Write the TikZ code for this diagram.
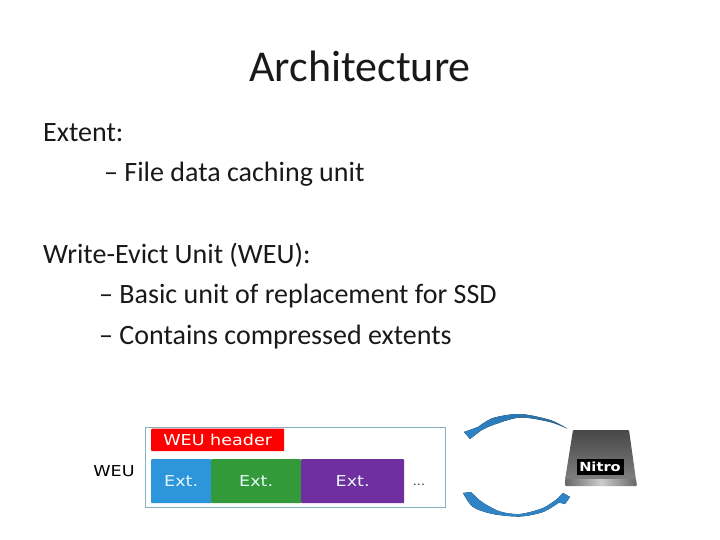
\documentclass[tikz,border=0pt]{standalone}
\usepackage{fontspec}
\setmainfont{Carlito}
\newfontfamily\vsans[FakeStretch=1.17]{DejaVu Sans}
\definecolor{extblue}{HTML}{2D96DB}
\definecolor{extgreen}{HTML}{339A3A}
\definecolor{extpurple}{HTML}{6F2F9F}
\definecolor{arrblue}{HTML}{2F84C6}
\definecolor{arrgray}{HTML}{6E7A84}
\tikzset{
  slidetext/.style={anchor=base west,inner sep=0pt,font=\fontsize{28}{30}\selectfont,text=black!90},
  extbox/.style={minimum height=44pt,inner sep=0pt,text=white!90!cyan,font=\vsans\fontsize{15}{17}\selectfont,anchor=north west,rounded corners=0.8pt},
}
\begin{document}
\begin{tikzpicture}[x=1pt,y=-1pt]
\useasboundingbox (0,0) rectangle (720,540);
\node[anchor=base,inner sep=0pt,font=\fontsize{44}{48}\selectfont,text=black!90] (title) at (360,82) {Architecture};
\node[slidetext] (l1) at (43,142) {Extent:};
\node[slidetext] (l2) at (104,182) {– File data caching unit};
\node[slidetext] (l3) at (43,263) {Write-Evict Unit (WEU):};
\node[slidetext] (l4) at (99,303) {– Basic unit of replacement for SSD};
\node[slidetext] (l5) at (99,344) {– Contains compressed extents};
% WEU frame
\node[draw=blue!30!cyan!35!gray!70,line width=0.9pt,fill=white,anchor=north west,minimum width=300pt,minimum height=80pt,inner sep=0pt] (frame) at (145,426.5) {};
\node[fill=red,anchor=north west,minimum width=133pt,minimum height=22.5pt,inner sep=0pt,rounded corners=1pt,text=white,font=\vsans\fontsize{15}{17}\selectfont] (hdr) at (151,428.5) {WEU header};
\node[extbox,fill=extblue,minimum width=60pt] (e1) at (151,459) {Ext.};
\node[extbox,fill=extgreen,minimum width=90pt] (e2) at (211,459) {Ext.};
\node[extbox,fill=extpurple,minimum width=103pt] (e3) at (301,459) {Ext.};
\node[inner sep=0pt,font=\vsans\fontsize{11}{12}\selectfont,text=black!80] (dots) at (419,485) {...};
\node[inner sep=0pt,font=\vsans\fontsize{15}{17}\selectfont,text=black] (weu) at (114,471) {WEU};
% Arrows
\fill[left color=arrblue,middle color=arrgray,right color=arrblue!80!black]
  plot[smooth] coordinates {(567,428.5) (550,420) (520,414) (493,418) (478,427)}
  -- (464,432) -- (470,439) -- (481,430.5)
  -- plot[smooth] coordinates {(481,430.5) (493,425) (520,417.5) (550,422) (567,428.5)} -- cycle;
\fill[left color=arrblue,middle color=arrgray,right color=arrblue]
  plot[smooth] coordinates {(463,493) (473,507) (493,514) (520,516.5) (543,512) (559,502.5)}
  -- (565,504) -- (570,497) -- (563,493) -- (557,499)
  -- plot[smooth] coordinates {(557,499) (543,508) (520,514) (500,511.5) (482,502) (471,492)} -- cycle;
% Nitro drive
\shade[top color=black!72,bottom color=black!50,rounded corners=1pt]
  (573,430) -- (629,430) -- (636,480) -- (565,480) -- cycle;
\shade[left color=black!60,right color=black!60,middle color=black!20,rounded corners=1pt]
  (565,479) -- (636,479) -- (637,486) -- (565,486) -- cycle;
\node[fill=black,text=white,inner sep=0pt,minimum width=47pt,minimum height=16pt,font=\vsans\bfseries\fontsize{12.5}{14}\selectfont] (nitro) at (600,467) {Nitro};
\end{tikzpicture}
\end{document}
